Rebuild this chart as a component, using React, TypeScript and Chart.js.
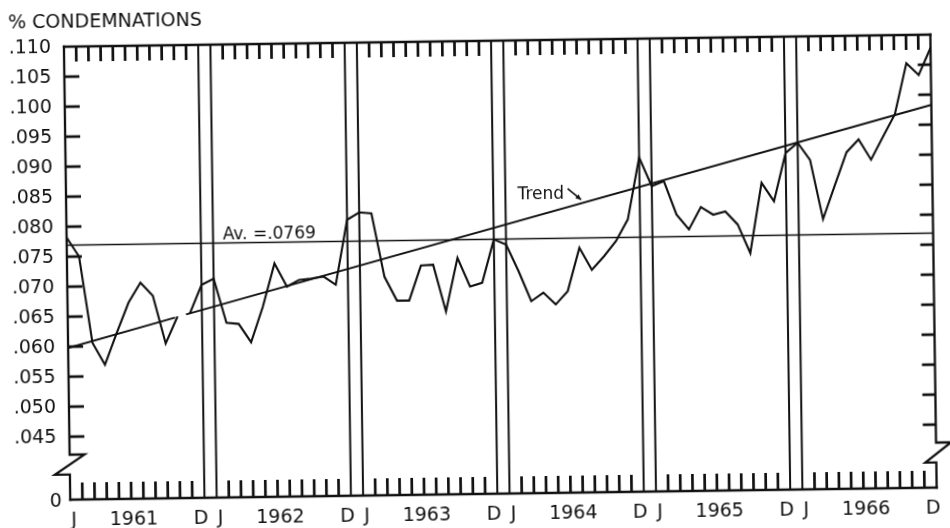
import { useEffect, useRef } from "react";
import { Chart, registerables } from "chart.js";

Chart.register(...registerables);

// Monthly condemnation rate, January to December of each year
const rate1961 = [0.0782, 0.075, 0.0606, 0.0569, 0.0622, 0.0672, 0.0705, 0.0683, 0.0603, 0.0648, 0.0652, 0.07];
const rate1962 = [0.071, 0.0636, 0.0634, 0.0603, 0.0662, 0.0734, 0.0695, 0.0706, 0.0708, 0.0711, 0.0697, 0.0805];
const rate1963 = [0.0817, 0.0815, 0.0709, 0.0669, 0.0669, 0.0727, 0.0728, 0.065, 0.0739, 0.0691, 0.0697, 0.0769];
const rate1964 = [0.076, 0.0715, 0.0665, 0.0679, 0.0659, 0.0681, 0.0753, 0.0716, 0.0738, 0.0763, 0.0799, 0.0902];
const rate1965 = [0.0854, 0.0862, 0.0806, 0.0781, 0.0818, 0.0805, 0.081, 0.0788, 0.074, 0.0857, 0.0826, 0.0906];
const rate1966 = [0.0923, 0.0894, 0.0795, 0.0851, 0.0906, 0.0927, 0.0893, 0.0931, 0.0968, 0.1053, 0.1033, 0.1078];

const years = ["1961", "1962", "1963", "1964", "1965", "1966"];
const yearlyRates = [rate1961, rate1962, rate1963, rate1964, rate1965, rate1966];

// Overall average
const averageRate = 0.0769;
const averageText = "Av. =.0769";

// Trend line (month index, rate); the pen lifts between the 2nd and 3rd point
const trendMonths = [0, 8.8, 9.7, 71];
const trendRates = [0.0598, 0.0646, 0.0651, 0.0983];
const trendText = "Trend";

// Vertical scale: broken below .045, bottom edge marked 0
const yTicks = [0.045, 0.05, 0.055, 0.06, 0.065, 0.07, 0.075, 0.08, 0.085, 0.09, 0.095, 0.1, 0.105, 0.11];
const yFloor = 0.0345;
const yFloorLabel = "0";
const axisBreakLow = 0.0387;
const axisBreakHigh = 0.042;

const titleText = "% CONDEMNATIONS";
const firstMonthLetter = "J";
const lastMonthLetter = "D";

// no line between Oct and Nov 1961
const penLiftAfter = 9;

const rates = yearlyRates.flat();
const lastMonth = rates.length - 1;

const ink = "#111";
const FONT = '"DejaVu Sans", "Liberation Sans", sans-serif';

const sheetPlugin = {
  id: "sheet",
  beforeDatasetsDraw(chart: any) {
    const { ctx, chartArea: a, scales } = chart;
    const x = scales.x;
    const y = scales.y;
    const seg = (x1: number, y1: number, x2: number, y2: number) => {
      ctx.beginPath();
      ctx.moveTo(x1, y1);
      ctx.lineTo(x2, y2);
      ctx.stroke();
    };
    const bHi = y.getPixelForValue(axisBreakHigh);
    const bLo = y.getPixelForValue(axisBreakLow);

    ctx.save();
    ctx.strokeStyle = ink;
    ctx.lineJoin = "miter";
    ctx.lineCap = "square";
    ctx.lineWidth = 2.3;

    // top and bottom edges
    seg(a.left, a.top, a.right, a.top);
    seg(a.left, a.bottom, a.right, a.bottom);

    // side axes with the zig-zag break
    ctx.beginPath();
    ctx.moveTo(a.left, a.top);
    ctx.lineTo(a.left, bHi);
    ctx.lineTo(a.left + 15, bHi);
    ctx.lineTo(a.left - 15, bLo);
    ctx.lineTo(a.left, bLo);
    ctx.lineTo(a.left, a.bottom);
    ctx.stroke();

    ctx.beginPath();
    ctx.moveTo(a.right, a.top);
    ctx.lineTo(a.right, bHi);
    ctx.lineTo(a.right + 15, bHi);
    ctx.lineTo(a.right - 11, bLo);
    ctx.lineTo(a.right, bLo);
    ctx.lineTo(a.right, a.bottom);
    ctx.stroke();

    // value ticks on both sides
    ctx.lineCap = "butt";
    ctx.lineWidth = 2.7;
    yTicks.forEach((v) => {
      if (v >= y.max) return;
      const py = y.getPixelForValue(v);
      seg(a.left, py, a.left + 15, py);
      seg(a.right - 13, py, a.right, py);
    });

    // month ticks, top and bottom
    rates.forEach((_, m) => {
      const mm = m % 12;
      if (mm === 0 || mm === 11) return;
      const px = x.getPixelForValue(m);
      seg(px, a.top, px, a.top + 15);
      seg(px, a.bottom - 17, px, a.bottom);
    });

    // double rules at each year end (D | J)
    ctx.lineWidth = 2;
    rates.forEach((_, m) => {
      const mm = m % 12;
      if ((mm === 11 && m !== lastMonth) || (mm === 0 && m !== 0)) {
        const px = x.getPixelForValue(m);
        seg(px, a.top, px, a.bottom);
      }
    });
    ctx.restore();
  },
  afterDatasetsDraw(chart: any) {
    const { ctx, chartArea: a, scales } = chart;
    const x = scales.x;
    const y = scales.y;
    ctx.save();
    ctx.fillStyle = ink;
    ctx.strokeStyle = ink;

    // title
    ctx.font = `19px ${FONT}`;
    ctx.textAlign = "left";
    ctx.textBaseline = "alphabetic";
    ctx.fillText(titleText, 11.5, 21.5);

    // value labels
    ctx.font = `19px ${FONT}`;
    ctx.textAlign = "right";
    ctx.textBaseline = "middle";
    yTicks.forEach((v) => {
      ctx.fillText(v.toFixed(3).slice(1), a.left - 13, y.getPixelForValue(v) + 1);
    });
    ctx.fillText(yFloorLabel, a.left - 8.5, y.getPixelForValue(yFloor) + 2);

    // month / year labels
    ctx.font = `19px ${FONT}`;
    ctx.textAlign = "center";
    const ly = a.bottom + 21;
    years.forEach((yr, i) => {
      const first = i * 12;
      ctx.fillText(firstMonthLetter, x.getPixelForValue(first + 0.3), ly);
      ctx.fillText(yr, x.getPixelForValue(first + 5.2), ly);
      ctx.fillText(lastMonthLetter, x.getPixelForValue(first + 10.7), ly);
    });

    // average label
    ctx.font = `17px ${FONT}`;
    ctx.textAlign = "left";
    ctx.textBaseline = "alphabetic";
    ctx.fillText(averageText, x.getPixelForValue(12.8), y.getPixelForValue(averageRate) - 4);

    // trend label with pointer
    ctx.fillText(trendText, x.getPixelForValue(37), y.getPixelForValue(0.0835));
    const x1 = x.getPixelForValue(41.1);
    const y1 = y.getPixelForValue(0.0852);
    const x2 = x.getPixelForValue(42.2);
    const y2 = y.getPixelForValue(0.0833);
    ctx.lineWidth = 1.6;
    ctx.beginPath();
    ctx.moveTo(x1, y1);
    ctx.lineTo(x2, y2);
    ctx.stroke();
    const ang = Math.atan2(y2 - y1, x2 - x1);
    ctx.beginPath();
    ctx.moveTo(x2, y2);
    ctx.lineTo(x2 - 6 * Math.cos(ang - 0.45), y2 - 6 * Math.sin(ang - 0.45));
    ctx.lineTo(x2 - 6 * Math.cos(ang + 0.45), y2 - 6 * Math.sin(ang + 0.45));
    ctx.closePath();
    ctx.fill();

    ctx.restore();
  },
};

export default function App() {
  const ref = useRef<HTMLCanvasElement>(null);

  useEffect(() => {
    const canvas = ref.current;
    if (!canvas) return;
    const chart = new Chart(canvas, {
      type: "line",
      data: {
        datasets: [
          {
            label: "Condemnations",
            data: rates.map((v, i) => ({ x: i, y: v })),
            borderColor: ink,
            borderWidth: 2.1,
            pointRadius: 0,
            tension: 0,
            fill: false,
            segment: {
              borderColor: (c: any) => (c.p0DataIndex === penLiftAfter ? "rgba(0,0,0,0)" : ink),
            },
          },
          {
            label: "Trend",
            data: trendMonths.map((m, i) => ({ x: m, y: trendRates[i] })),
            borderColor: ink,
            borderWidth: 2,
            pointRadius: 0,
            tension: 0,
            fill: false,
            segment: {
              borderColor: (c: any) => (c.p0DataIndex === 1 ? "rgba(0,0,0,0)" : ink),
            },
          },
          {
            label: "Average",
            data: [
              { x: 0, y: averageRate },
              { x: lastMonth, y: averageRate },
            ],
            borderColor: ink,
            borderWidth: 1.5,
            pointRadius: 0,
            fill: false,
          },
        ],
      },
      options: {
        responsive: false,
        animation: false,
        events: [],
        layout: { padding: { left: 67, right: 16.5, top: 41, bottom: 34 } },
        scales: {
          x: { type: "linear", min: 0, max: lastMonth, display: false },
          y: { type: "linear", min: yFloor, max: 0.11, display: false },
        },
        plugins: {
          legend: { display: false },
          tooltip: { enabled: false },
          title: { display: false },
        },
      },
      plugins: [sheetPlugin],
    });
    return () => chart.destroy();
  }, []);

  return (
    <div
      style={{
        position: "fixed",
        left: 0,
        top: 0,
        width: 950,
        height: 528,
        overflow: "hidden",
        background: "#fff",
      }}
    >
      <canvas
        ref={ref}
        width={950}
        height={528}
        style={{ display: "block", width: 950, height: 528, transform: "rotate(-0.8deg)" }}
      />
    </div>
  );
}
